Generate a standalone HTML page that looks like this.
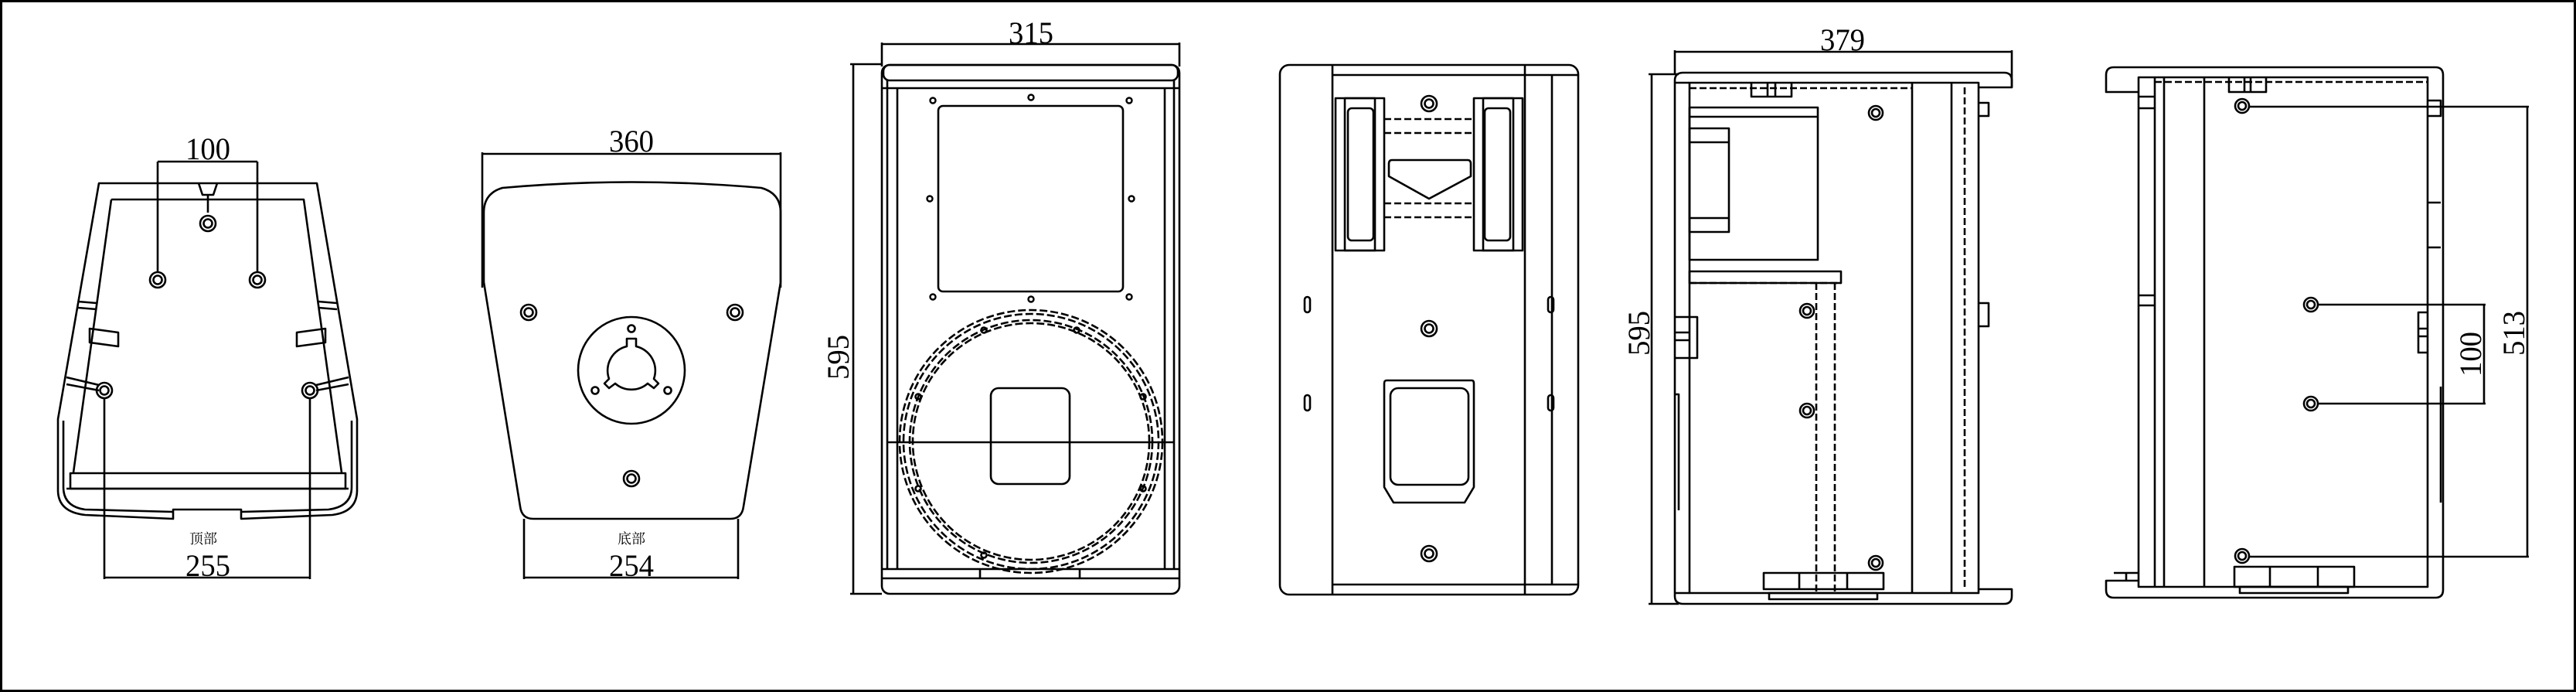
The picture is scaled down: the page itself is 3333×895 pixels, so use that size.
<!DOCTYPE html>
<html><head><meta charset="utf-8"><style>
html,body{margin:0;padding:0;background:#fff;}
svg{display:block;}
text{font-family:"Liberation Serif","Noto Serif CJK SC",serif;fill:#000;}
</style></head><body>
<svg width="3333" height="895" viewBox="0 0 3333 895" xmlns="http://www.w3.org/2000/svg">
<rect x="1.5" y="1.5" width="3330" height="892" fill="#fff" stroke="#000" stroke-width="3"/>
<g fill="none" stroke="#000" stroke-width="2.6" stroke-linejoin="round">

<!-- VIEW 1 top -->
<path d="M128,237 L410,237 L462,542 L462,634 Q462,662 430,666 L312,671 L312,659 L224,659 L224,671 L110,666 Q75,662 75,634 L75,542 Z"/>
<path d="M144,258 L393,258 L442,611 M144,258 L95,611"/>
<path d="M82,544 L82,630 Q82,655 110,659 L224,662 M455,544 L455,630 Q455,655 425,659 L312,662"/>
<rect x="91" y="612" width="356" height="20"/>
<path d="M86,632 L451,632"/>
<path d="M116,425 L153,430 L153,448 L116,443 Z M421,425 L384,430 L384,448 L421,443 Z"/>
<path d="M101,390 L125,392 M101,398 L125,400 M436,392 L412,390 M436,400 L412,398 M86,488 L128,498 M86,497 L128,505 M451,488 L409,498 M451,497 L409,505"/>
<path d="M257,237 L262,252 L276,252 L281,237 M269,252 L269,275" />
<circle cx="269" cy="289" r="10"/><circle cx="269" cy="289" r="5.5"/>
<circle cx="204" cy="362" r="10"/><circle cx="204" cy="362" r="5.5"/>
<circle cx="333" cy="362" r="10"/><circle cx="333" cy="362" r="5.5"/>
<circle cx="135" cy="505" r="10"/><circle cx="135" cy="505" r="5.5"/>
<circle cx="401" cy="505" r="10"/><circle cx="401" cy="505" r="5.5"/>
<path d="M204,209 L333,209 M204,209 L204,352 M333,209 L333,352"/>
<path d="M135,515 L135,749 M401,515 L401,749 M135,747 L401,747"/>

<!-- VIEW 2 bottom -->
<path d="M624,199 L1010,199 M624,197 L624,372 M1010,197 L1010,372"/>
<path d="M650,243 Q817,228 985,243 Q1010,250 1010,275 L1010,365 L962,655 Q960,671 945,671 L690,671 Q675,671 673,655 L626,365 L626,275 Q626,250 650,243 Z"/>
<circle cx="684" cy="404" r="10"/><circle cx="684" cy="404" r="5.5"/>
<circle cx="951" cy="404" r="10"/><circle cx="951" cy="404" r="5.5"/>
<circle cx="817" cy="619" r="10"/><circle cx="817" cy="619" r="5.5"/>
<circle cx="817" cy="479" r="69"/>
<path d="M811,448 L811,438 L823,438 L823,448 A32,32 0 0 1 846,490 L852,496 L846,502 L838,496 A32,32 0 0 1 796,496 L788,502 L782,496 L788,490 A32,32 0 0 1 811,448 Z"/>
<circle cx="817" cy="425" r="4.5"/><circle cx="770" cy="505" r="4.5"/><circle cx="864" cy="505" r="4.5"/>
<path d="M678,671 L678,749 M955,671 L955,749 M678,747 L955,747"/>

<!-- 595 dim for view 3 -->
<path d="M1104,83 L1104,768 M1100,83 L1141,83 M1100,768 L1141,768"/>

<!-- VIEW 3 front -->
<path d="M1141,57 L1526,57 M1141,55 L1141,86 M1526,55 L1526,86"/>
<rect x="1141" y="84" width="385" height="684" rx="10"/>
<rect x="1143" y="84" width="381" height="20" rx="8"/>
<path d="M1141,114 L1526,114 M1148,104 L1148,736 M1161,114 L1161,736 M1507,114 L1507,736 M1519,104 L1519,736"/>
<path d="M1141,736 L1526,736 M1141,748 L1526,748 M1268,736 L1268,748 M1397,736 L1397,748"/>
<rect x="1214" y="137" width="239" height="240" rx="6"/>
<g stroke-width="2.4">
<circle cx="1207" cy="130" r="3.5"/><circle cx="1334" cy="126" r="3.5"/><circle cx="1461" cy="130" r="3.5"/>
<circle cx="1203" cy="257" r="3.5"/><circle cx="1464" cy="257" r="3.5"/>
<circle cx="1207" cy="384" r="3.5"/><circle cx="1334" cy="387" r="3.5"/><circle cx="1461" cy="384" r="3.5"/>
</g>
<g stroke-dasharray="10,4">
<circle cx="1334" cy="571" r="170"/><circle cx="1334" cy="571" r="165"/>
<circle cx="1334" cy="571" r="157"/><circle cx="1334" cy="571" r="153"/>
</g>
<g>
<circle cx="1273" cy="427" r="3.5"/><circle cx="1393" cy="427" r="3.5"/>
<circle cx="1188" cy="513" r="3.5"/><circle cx="1479" cy="513" r="3.5"/>
<circle cx="1188" cy="632" r="3.5"/><circle cx="1479" cy="632" r="3.5"/>
<circle cx="1273" cy="718" r="3.5"/>
</g>
<rect x="1282" y="502" width="102" height="124" rx="10"/>
<path d="M1148,572 L1519,572"/>

<!-- VIEW 4 back -->
<rect x="1656" y="84" width="386" height="685" rx="12"/>
<path d="M1724,84 L1724,769 M1973,84 L1973,769 M2008,97 L2008,756 M1724,97 L2042,97 M1724,756 L2042,756"/>
<rect x="1728" y="127" width="63" height="197"/><rect x="1740" y="127" width="39" height="197"/>
<rect x="1744" y="140" width="33" height="171" rx="5"/>
<rect x="1907" y="127" width="63" height="197"/><rect x="1919" y="127" width="39" height="197"/>
<rect x="1921" y="140" width="33" height="171" rx="5"/>
<path stroke-dasharray="9,4" d="M1791,154 L1907,154 M1791,172 L1907,172 M1791,263 L1907,263 M1791,281 L1907,281"/>
<path d="M1801,207 L1899,207 Q1903,207 1903,212 L1903,228 L1849,257 L1797,228 L1797,212 Q1797,207 1801,207 Z"/>
<circle cx="1849" cy="134" r="10"/><circle cx="1849" cy="134" r="5.5"/>
<circle cx="1849" cy="425" r="10"/><circle cx="1849" cy="425" r="5.5"/>
<circle cx="1849" cy="716" r="10"/><circle cx="1849" cy="716" r="5.5"/>
<rect x="1688" y="384" width="7" height="20" rx="3.5"/><rect x="1688" y="511" width="7" height="20" rx="3.5"/>
<rect x="2003" y="384" width="7" height="20" rx="3.5"/><rect x="2003" y="511" width="7" height="20" rx="3.5"/>
<path d="M1794,492 L1904,492 Q1907,492 1907,496 L1907,630 L1895,650 L1803,650 L1791,630 L1791,496 Q1791,492 1794,492 Z"/>
<rect x="1799" y="502" width="101" height="125" rx="10"/>

<!-- VIEW 5 side -->
<path d="M2167,67 L2603,67 M2167,65 L2167,96 M2603,65 L2603,113"/>
<path d="M2137,96 L2137,781 M2133,96 L2172,96 M2133,781 L2172,781"/>
<path d="M2178,94 L2593,94 Q2603,94 2603,104 L2603,113 L2560,113 M2178,94 Q2167,94 2167,104 L2167,771 Q2167,781 2178,781 L2593,781 Q2603,781 2603,771 L2603,762 L2560,762"/>
<rect x="2186" y="107" width="374" height="660"/>
<path d="M2167,107 L2186,107 M2167,767 L2186,767"/>
<path stroke-dasharray="9,4" d="M2186,114 L2474,114 M2542,113 L2542,762"/>
<path d="M2474,107 L2474,767 M2525,107 L2525,767"/>
<path d="M2266,107 L2266,125 L2318,125 L2318,107 M2287,107 L2287,125 M2297,107 L2297,125"/>
<rect x="2186" y="139" width="166" height="197"/><path d="M2186,151 L2352,151"/>
<rect x="2186" y="166" width="51" height="134"/><path d="M2186,184 L2237,184 M2186,282 L2237,282"/>
<rect x="2186" y="351" width="196" height="15"/>
<path stroke-dasharray="9,4" d="M2350,366 L2350,767 M2374,366 L2374,767 M2186,366 L2382,366"/>
<circle cx="2427" cy="146" r="9"/><circle cx="2427" cy="146" r="5"/>
<circle cx="2338" cy="402" r="9"/><circle cx="2338" cy="402" r="5"/>
<circle cx="2338" cy="531" r="9"/><circle cx="2338" cy="531" r="5"/>
<circle cx="2427" cy="728" r="9"/><circle cx="2427" cy="728" r="5"/>
<rect x="2282" y="741" width="155" height="21"/><path d="M2328,741 L2328,762 M2390,741 L2390,762"/>
<rect x="2289" y="767" width="140" height="8"/>
<path d="M2167,410 L2196,410 L2196,463 L2167,463 M2167,430 L2186,430 M2167,440 L2186,440 M2167,510 L2172,510 L2172,660"/>
<path d="M2560,133 L2573,133 L2573,150 L2560,150 M2560,392 L2573,392 L2573,422 L2560,422"/>

<!-- VIEW 6 other side -->
<path d="M2735,87 L3151,87 Q3161,87 3161,97 L3161,763 Q3161,773 3151,773 L2735,773 Q2725,773 2725,763 L2725,751 L2767,751 M2735,87 Q2725,87 2725,97 L2725,119 L2767,119"/>
<rect x="2767" y="100" width="374" height="659"/>
<path d="M2788,100 L2788,759 M2800,100 L2800,759 M2852,100 L2852,759"/>
<path stroke-dasharray="9,4" d="M2788,106 L3141,106"/>
<path d="M2735,741 L2767,741 M2751,741 L2751,751"/>
<path d="M2767,125 L2788,125 M2767,140 L2788,140 M2767,382 L2788,382 M2767,395 L2788,395"/>
<path d="M2884,100 L2884,119 L2932,119 L2932,100 M2904,100 L2904,119 M2912,100 L2912,119"/>
<path d="M3141,404 L3129,404 L3129,456 L3141,456 M3129,425 L3141,425 M3129,435 L3141,435 M3158,500 L3158,650"/>
<path d="M3141,130 L3158,130 L3158,150 L3141,150 M3141,262 L3158,262 M3141,320 L3158,320"/>
<circle cx="2901" cy="137" r="9"/><circle cx="2901" cy="137" r="5"/>
<circle cx="2990" cy="394" r="9"/><circle cx="2990" cy="394" r="5"/>
<circle cx="2990" cy="522" r="9"/><circle cx="2990" cy="522" r="5"/>
<circle cx="2901" cy="719" r="9"/><circle cx="2901" cy="719" r="5"/>
<path d="M2910,138 L3272,138 M2910,720 L3272,720 M3270,138 L3270,720"/>
<path d="M2999,394 L3216,394 M2999,522 L3216,522 M3214,394 L3214,522"/>
<rect x="2891" y="733" width="155" height="26"/><path d="M2937,733 L2937,759 M2999,733 L2999,759"/>
<rect x="2898" y="759" width="140" height="8"/>
</g>

<!-- Dimension texts -->
<g font-size="40">
<text x="269" y="206" text-anchor="middle" textLength="58" lengthAdjust="spacingAndGlyphs">100</text>
<text x="269" y="745" text-anchor="middle" textLength="58" lengthAdjust="spacingAndGlyphs">255</text>
<text x="817" y="196" text-anchor="middle" textLength="58" lengthAdjust="spacingAndGlyphs">360</text>
<text x="817" y="745" text-anchor="middle" textLength="58" lengthAdjust="spacingAndGlyphs">254</text>
<text x="1334" y="56" text-anchor="middle" textLength="58" lengthAdjust="spacingAndGlyphs">315</text>
<text x="2384" y="65" text-anchor="middle" textLength="58" lengthAdjust="spacingAndGlyphs">379</text>
<text transform="translate(1098,462) rotate(-90)" text-anchor="middle" textLength="58" lengthAdjust="spacingAndGlyphs">595</text>
<text transform="translate(2134,431) rotate(-90)" text-anchor="middle" textLength="58" lengthAdjust="spacingAndGlyphs">595</text>
<text transform="translate(3266,431) rotate(-90)" text-anchor="middle" textLength="58" lengthAdjust="spacingAndGlyphs">513</text>
<text transform="translate(3210,458) rotate(-90)" text-anchor="middle" textLength="58" lengthAdjust="spacingAndGlyphs">100</text>
</g>
<g font-size="18" font-family="'Liberation Serif','Noto Serif CJK SC',serif">
<text x="263" y="703" text-anchor="middle">顶部</text>
<text x="817" y="703" text-anchor="middle">底部</text>
</g>
</svg>
</body></html>
